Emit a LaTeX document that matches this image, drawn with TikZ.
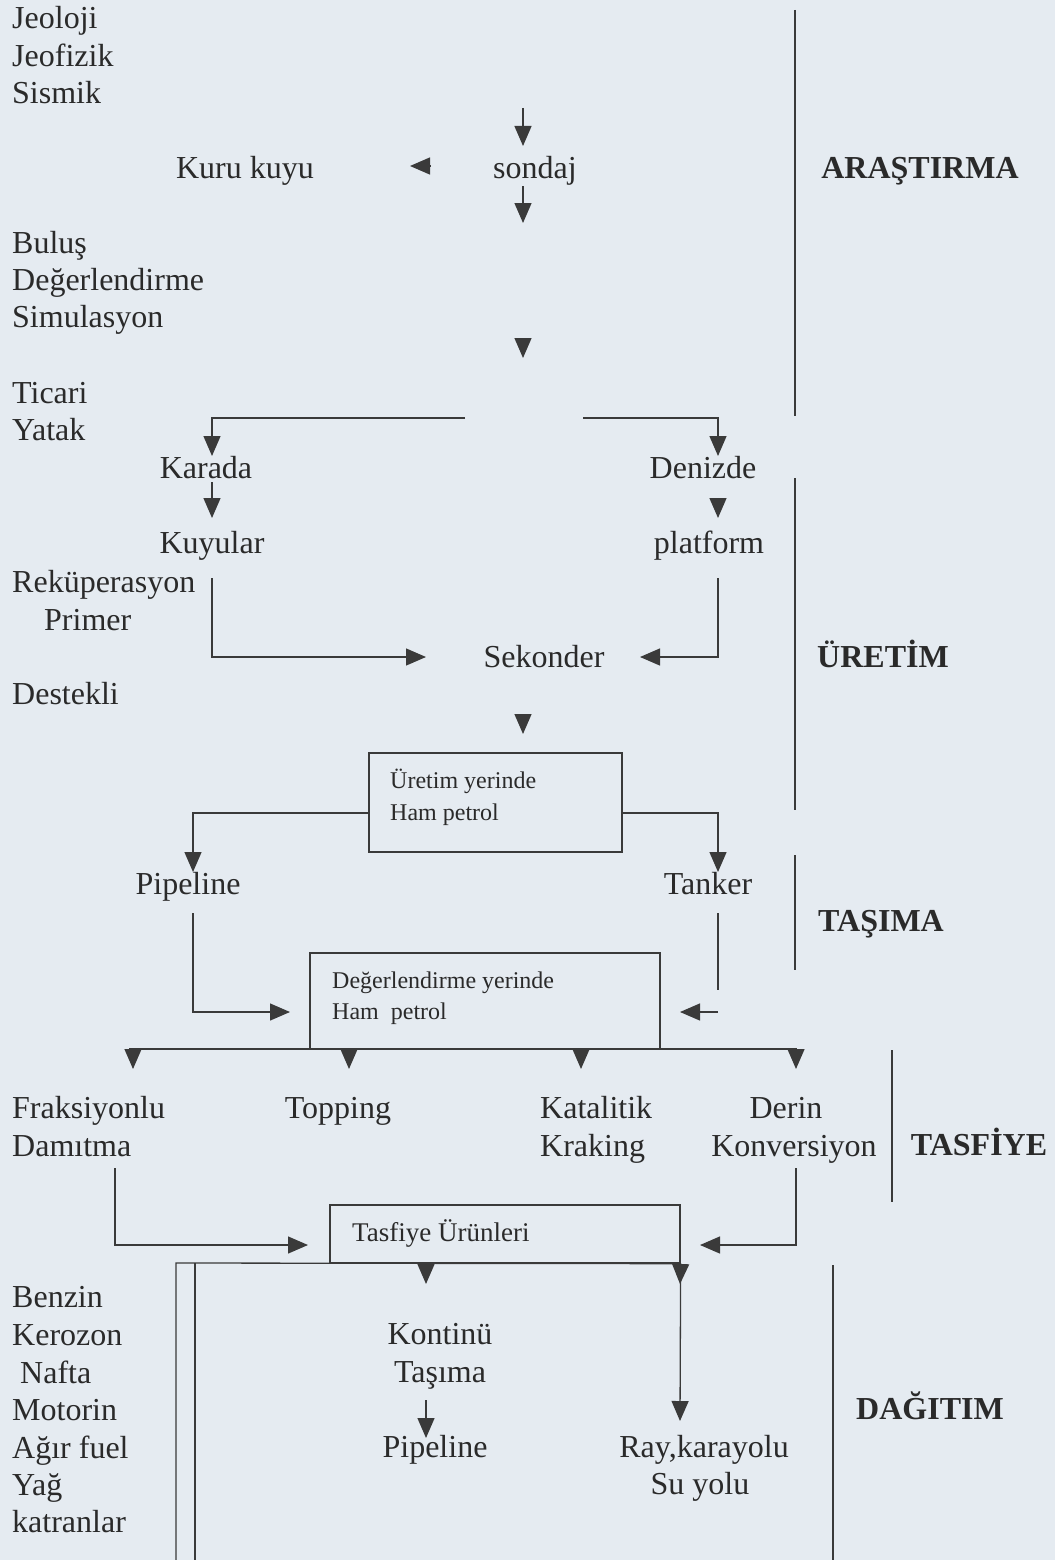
\documentclass[tikz,border=0pt]{standalone}
\usepackage{fontspec}
\setmainfont{Liberation Serif}
\usetikzlibrary{arrows.meta}
\definecolor{bg}{HTML}{E5EBF1}
\definecolor{ink}{HTML}{2A2A2A}
\definecolor{lineink}{HTML}{3A3A3A}
\begin{document}
\begin{tikzpicture}[x=1pt,y=-1pt,
  lbl/.style={font=\fontsize{32}{38}\selectfont, text=ink, inner sep=0pt, anchor=base west},
  lblc/.style={font=\fontsize{32}{38}\selectfont, text=ink, inner sep=0pt, anchor=base},
  head/.style={font=\fontsize{32}{38}\selectfont\bfseries, text=ink, inner sep=0pt, anchor=base},
  btxt/.style={font=\fontsize{24}{31}\selectfont, text=ink, inner sep=0pt, anchor=base west},
  box/.style={draw=lineink, line width=1.3pt, inner sep=0pt},
  ln/.style={draw=lineink, line width=1.3pt},
  arr/.style={ln, -{Triangle[length=20pt,width=17pt]}},
  sep/.style={draw=lineink, line width=1.5pt}]
\fill[bg] (0,0) rectangle (1055,1560);
\useasboundingbox (0,0) rectangle (1055,1560);

% ---------- left column ----------
\node[lbl] (jeoloji) at (12,29) {Jeoloji};
\node[lbl] (jeofizik) at (12,67) {Jeofizik};
\node[lbl] (sismik) at (12,104) {Sismik};
\node[lbl] (bulus) at (12,253) {Buluş};
\node[lbl] (degerl) at (12,290) {Değerlendirme};
\node[lbl] (simul) at (12,327) {Simulasyon};
\node[lbl] (ticari) at (12,403) {Ticari};
\node[lbl] (yatak) at (12,440) {Yatak};
\node[lbl] (rekup) at (12,592) {Reküperasyon};
\node[lbl] (primer) at (44,630) {Primer};
\node[lbl] (destekli) at (12,704) {Destekli};
\node[lbl] (fraks) at (12,1118) {Fraksiyonlu};
\node[lbl] (damitma) at (12,1156) {Damıtma};
\node[lbl] (benzin) at (12,1307) {Benzin};
\node[lbl] (kerozon) at (12,1345) {Kerozon};
\node[lbl] (nafta) at (20,1383) {Nafta};
\node[lbl] (motorin) at (12,1420) {Motorin};
\node[lbl] (agir) at (12,1458) {Ağır fuel};
\node[lbl] (yag) at (12,1495) {Yağ};
\node[lbl] (katran) at (12,1532) {katranlar};

% ---------- centre texts ----------
\node[lblc] (kuru) at (245,178) {Kuru kuyu};
\node[lblc] (sondaj) at (535,178) {sondaj};
\node[lblc] (karada) at (206,478) {Karada};
\node[lblc] (denizde) at (703,478) {Denizde};
\node[lblc] (kuyular) at (212,553) {Kuyular};
\node[lblc] (platform) at (709,553) {platform};
\node[lblc] (sekonder) at (544,667) {Sekonder};
\node[lblc] (pipeA) at (188,894) {Pipeline};
\node[lblc] (tanker) at (708,894) {Tanker};
\node[lblc] (topping) at (338,1118) {Topping};
\node[lbl] (katalitik) at (540,1118) {Katalitik};
\node[lbl] (kraking) at (540,1156) {Kraking};
\node[lblc] (derin) at (786,1118) {Derin};
\node[lblc] (konv) at (794,1156) {Konversiyon};
\node[lblc] (kontinu) at (440,1344) {Kontinü};
\node[lblc] (tasimaT) at (440,1382) {Taşıma};
\node[lblc] (pipeB) at (435,1457) {Pipeline};
\node[lblc] (ray) at (704,1457) {Ray,karayolu};
\node[lblc] (suyolu) at (700,1494) {Su yolu};

% ---------- stage headings ----------
\node[head] (arastirma) at (920,178) {ARAŞTIRMA};
\node[head] (uretim) at (883,667) {ÜRETİM};
\node[head] (tasima) at (881,931) {TAŞIMA};
\node[head] (tasfiye) at (979,1155) {TASFİYE};
\node[head] (dagitim) at (930,1419) {DAĞITIM};

% ---------- stage separators ----------
\coordinate (s1a) at (795,10);   \coordinate (s1b) at (795,416);
\coordinate (s2a) at (795,478);  \coordinate (s2b) at (795,810);
\coordinate (s3a) at (795,855);  \coordinate (s3b) at (795,970);
\coordinate (s4a) at (892,1050); \coordinate (s4b) at (892,1202);
\coordinate (s5a) at (833,1265); \coordinate (s5b) at (833,1560);
\draw[sep] (s1a) -- (s1b);
\draw[sep] (s2a) -- (s2b);
\draw[sep] (s3a) -- (s3b);
\draw[sep] (s4a) -- (s4b);
\draw[sep] (s5a) -- (s5b);

% ---------- boxes ----------
\node[box, minimum width=253pt, minimum height=99pt] (b1) at (495.5,802.5) {};
\node[btxt] (b1l1) at (390,788) {Üretim yerinde};
\node[btxt] (b1l2) at (390,820) {Ham petrol};
\node[box, minimum width=350pt, minimum height=96pt] (b2) at (485,1001) {};
\node[btxt] (b2l1) at (332,988) {Değerlendirme yerinde};
\node[btxt] (b2l2) at (332,1019) {Ham\ \ petrol};
\node[box, minimum width=350pt, minimum height=58pt] (b3) at (505,1234) {};
\node[btxt, font=\fontsize{27}{31}\selectfont] (b3l1) at (352,1241) {Tasfiye Ürünleri};

% ---------- ARAŞTIRMA connectors ----------
\coordinate (a1) at (523,108); \coordinate (a1t) at (523,146);
\draw[arr] (a1) -- (a1t);
\coordinate (a2) at (523,186); \coordinate (a2t) at (523,223);
\draw[arr] (a2) -- (a2t);
\coordinate (a3) at (523,338); \coordinate (a3t) at (523,358);
\draw[arr] (a3) -- (a3t);
\coordinate (a4) at (430,166); \coordinate (a4t) at (410,166);
\draw[arr] (a4) -- (a4t);

% ---------- ÜRETİM connectors ----------
\coordinate (hL) at (465,418); \coordinate (kT) at (212,456);
\draw[arr] (hL) -| (kT);
\coordinate (hR) at (583,418); \coordinate (dT) at (718,456);
\draw[arr] (hR) -| (dT);
\coordinate (k2) at (212,482); \coordinate (k2t) at (212,518);
\draw[arr] (k2) -- (k2t);
\coordinate (d2) at (718,498); \coordinate (d2t) at (718,518);
\draw[arr] (d2) -- (d2t);
\coordinate (k3) at (212,578); \coordinate (sekL) at (426,657);
\draw[arr] (k3) |- (sekL);
\coordinate (p3) at (718,578); \coordinate (sekR) at (640,657);
\draw[arr] (p3) |- (sekR);
\coordinate (e1) at (523,714); \coordinate (e1t) at (523,734);
\draw[arr] (e1) -- (e1t);

% ---------- TAŞIMA connectors ----------
\coordinate (pAt) at (193,872);
\draw[arr] (b1.west |- 0,813) -| (pAt);
\coordinate (tkt) at (718,872);
\draw[arr] (b1.east |- 0,813) -| (tkt);
\coordinate (pA2) at (193,913); \coordinate (b2L) at (290,1012);
\draw[arr] (pA2) |- (b2L);
\coordinate (tk2) at (718,913); \coordinate (tk2e) at (718,990);
\draw[ln] (tk2) -- (tk2e);
\coordinate (tk3) at (718,1012); \coordinate (b2R) at (680,1012);
\draw[arr] (tk3) -- (b2R);

% ---------- TASFİYE connectors ----------
\coordinate (hb2L) at (129,1049); \coordinate (hb2R) at (797,1049);
\draw[ln] (hb2L) -- (hb2R);
\foreach \xx/\nm in {133/fr, 349/tp, 581/kt, 796/dr} {
  \coordinate (\nm0) at (\xx,1049);
  \coordinate (\nm1) at (\xx,1069);
  \draw[arr] (\nm0) -- (\nm1);
}
\coordinate (dm) at (115,1168); \coordinate (b3L) at (308,1245);
\draw[arr] (dm) |- (b3L);
\coordinate (kv) at (796,1168); \coordinate (b3R) at (700,1245);
\draw[arr] (kv) |- (b3R);

% ---------- DAĞITIM connectors ----------
\coordinate (v1b) at (176,1560); \coordinate (v1t) at (176,1263);
\draw[ln] (v1b) -- (v1t) -- (b3.south east);
\coordinate (v2t) at (195,1263); \coordinate (v2b) at (195,1560);
\draw[ln] (v2t) -- (v2b);
\coordinate (k0) at (426,1264); \coordinate (k0t) at (426,1284);
\draw[arr] (k0) -- (k0t);
\coordinate (kp) at (426,1400); \coordinate (kpt) at (426,1438);
\draw[arr] (kp) -- (kpt);
\coordinate (rayT) at (680,1421);
\draw[arr] (b3.south east) -- (rayT);
\coordinate (r0t) at (680,1284);
\draw[arr] (b3.south east) -- (r0t);
\end{tikzpicture}
\end{document}
